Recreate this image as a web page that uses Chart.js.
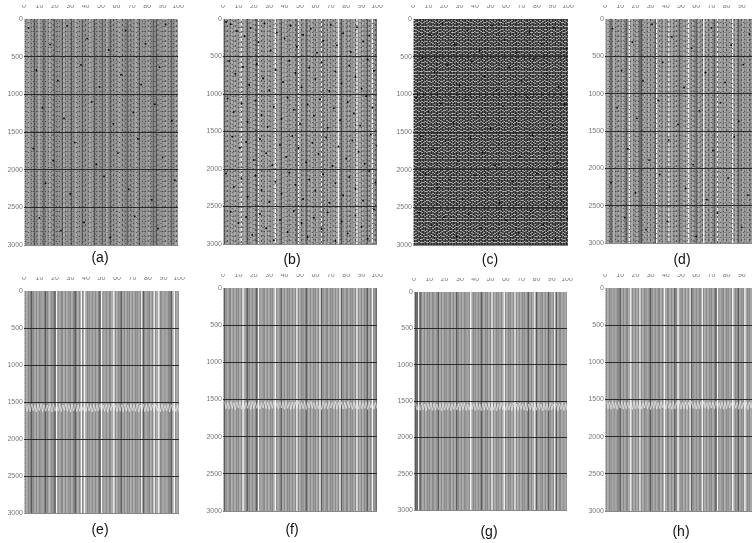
<!DOCTYPE html>
<html>
<head>
<meta charset="utf-8">
<script src="https://cdn.jsdelivr.net/npm/chart.js@4"></script>
<style>
html, body { margin: 0; padding: 0; background: #fff; overflow: hidden; width: 752px; height: 543px; }
canvas { position: absolute; }
.cap { position: absolute; font: 14px "Liberation Sans", sans-serif; color: #111; transform: translateX(-50%); }
</style>
</head>
<body>
<script>
// Trace numbers and axis values
const traceNumbers = [1,2,3,4,5,6,7,8,9,10,11,12,13,14,15,16,17,18,19,20,21,22,23,24,25,26,27,28,29,30,31,32,33,34,35,36,37,38,39,40,41,42,43,44,45,46,47,48,49,50,51,52,53,54,55,56,57,58,59,60,61,62,63,64,65,66,67,68,69,70,71,72,73,74,75,76,77,78,79,80,81,82,83,84,85,86,87,88,89,90,91,92,93,94,95,96,97,98,99,100];
const panelLabels = ['(a)','(b)','(c)','(d)','(e)','(f)','(g)','(h)'];
const xRange = [0, 100];
const timeRange = [0, 3000];

// Tone of each trace column, read by eye (0 white gap .. 3 dark)
const toneA = [2,2,1,2,2,2,3,2,2,1, 2,2,3,2,2,2,1,2,2,3, 2,2,2,2,3,1,2,2,2,2, 3,2,2,1,2,2,2,3,2,2, 2,2,1,2,2,3,2,2,2,2, 3,2,2,1,2,3,2,2,2,2, 2,1,2,2,2,2,3,2,2,2, 2,2,1,2,3,2,2,2,2,2, 1,2,2,3,2,3,2,2,2,2, 2,1,2,2,2,3,2,2,1,2];
const toneB = [3,2,1,2,2,1,2,1,2,2, 1,0,2,1,2,3,2,1,2,1, 2,3,0,2,1,2,2,1,2,1, 2,2,1,0,2,1,2,3,1,2, 1,2,2,1,2,1,2,3,0,1, 2,2,1,3,2,1,2,1,2,2, 1,2,2,0,3,1,2,2,1,2, 2,1,2,1,0,2,3,2,1,2, 2,1,2,2,1,2,0,2,1,2, 1,2,2,3,1,2,0,2,2,3];
const toneD = [2,1,2,3,2,1,2,2,1,2, 2,1,2,3,2,0,2,1,2,2, 1,2,3,3,2,1,2,2,1,2, 2,1,3,0,2,1,2,2,1,2, 2,0,2,1,2,2,1,2,3,2, 2,1,2,1,0,2,2,1,2,3, 2,1,2,2,0,2,1,2,2,1, 2,3,2,0,2,1,2,2,1,2, 2,1,2,0,2,1,2,3,2,2, 1,2,2,1,2,2,1,2,2,1];
const toneE = [2,1,2,2,3,2,1,2,1,2, 2,1,2,3,2,1,1,2,2,3, 0,2,1,2,2,1,2,1,2,2, 1,2,3,2,1,2,0,2,0,1, 2,2,1,2,1,2,1,2,3,0, 2,1,2,1,2,2,1,0,2,1, 2,2,3,1,2,1,2,2,1,2, 1,2,2,1,2,0,3,2,1,2, 2,1,2,0,2,1,0,2,2,1, 2,1,2,2,3,1,0,2,1,2];
const toneF = [3,2,1,2,2,1,2,1,2,2, 1,2,0,1,2,3,2,1,2,1, 2,3,0,2,1,2,2,1,2,1, 2,2,1,0,2,1,2,3,1,2, 1,2,2,1,2,1,2,0,2,1, 2,2,1,3,2,1,2,1,2,2, 1,2,0,3,2,1,2,2,1,2, 2,1,2,1,2,0,3,2,1,2, 2,1,2,2,1,2,0,2,1,2, 1,2,2,3,1,2,0,2,2,3];
const toneG = [3,3,0,3,2,1,2,1,2,2, 1,2,2,1,2,3,1,2,1,2, 2,1,2,2,1,2,1,3,2,1, 2,1,2,2,1,2,0,1,2,2, 1,2,1,3,2,1,2,2,1,2, 0,2,1,2,2,1,2,1,0,2, 1,2,2,1,2,0,2,1,2,1, 2,2,1,2,3,1,2,1,0,3, 2,1,2,2,1,2,1,3,2,1, 2,0,3,1,2,2,1,2,1,2];
const toneH = [2,1,2,2,1,2,1,2,2,3, 1,2,1,2,2,1,0,2,1,2, 1,2,0,2,1,2,2,1,2,3, 2,1,2,1,2,2,1,2,0,1, 2,2,1,2,1,3,2,0,1,2, 2,1,2,1,2,0,3,2,1,2, 1,2,2,0,2,1,2,1,2,2, 1,2,3,0,2,1,2,2,1,2, 2,1,2,0,1,2,2,3,1,2, 2,0,1,2,2,1,2,1,2,2];

// How broken up each noisy trace looks (0 clean .. 3 very broken)
const noiseA = [1,2,1,0,2,1,3,1,2,0,2,1,3,1,0,2,1,2,3,0,1,2,1,0,3,1,2,1,0,2,3,1,0,1,2,1,0,2,1,3,0,2,1,0,1,3,2,0,1,2,0,1,3,1,0,2,1,3,0,2,1,1,0,3,1,2,0,1,3,1,2,0,1,2,3,0,1,2,1,0,3,2,1,0,1,2,3,0,2,1,1,3,0,2,1,0,2,1,3,0];
const noiseB = [2,1,3,0,2,2,1,3,0,2,1,3,2,0,1,3,2,1,0,2,3,1,2,0,3,2,1,0,2,3,1,0,2,1,3,0,2,3,1,0,2,1,3,2,0,1,3,0,2,1,3,2,0,1,2,3,0,1,2,3,1,0,2,3,1,2,0,3,1,2,0,3,2,1,0,2,3,1,0,2,1,3,2,0,1,3,2,0,1,2,3,0,2,1,3,0,1,2,3,0];
const noiseC = [1,3,0,2,3,1,0,2,1,3,2,0,3,1,2,0,1,3,2,1,0,3,2,0,1,3,1,2,0,3,1,2,3,0,1,2,0,3,1,2,3,1,0,2,1,3,0,2,3,1,2,0,1,3,2,0,3,1,2,1,0,3,2,1,3,0,2,1,0,3,1,2,0,3,2,1,3,0,1,2,3,1,0,2,1,3,2,0,1,3,0,2,3,1,2,0,3,1,2,0];
const noiseD = [0,2,1,3,1,0,2,1,3,0,1,2,1,3,0,2,1,0,3,1,2,1,0,2,3,1,0,2,1,3,0,1,2,1,0,3,2,1,0,2,1,3,1,0,2,1,3,0,1,2,0,3,1,2,1,0,2,3,1,0,2,1,1,3,0,2,1,3,0,1,2,1,0,3,2,1,0,2,1,3,0,1,2,1,3,0,2,1,0,3,1,2,0,1,3,2,1,0,2,1];

// Scalloped event near 1500-1650 on panels e-h, read by eye
const eventTimes = [1530,1625,1535,1630,1525,1620,1540,1635,1530,1615,1525,1630,1535,1625,1540,1620,1530,1635,1525,1625,1535,1620,1530,1630,1540,1615,1525,1625,1535,1635,1530,1620,1525,1630,1540,1625,1530,1615,1535,1630,1525,1620,1540,1635,1530,1625,1535,1620,1525,1630,1540,1625,1530,1635,1535,1615,1525,1620,1540,1630,1530,1625,1535,1635,1525,1620,1540,1630,1530,1615,1535,1625,1525,1635,1540,1620,1530,1630,1535,1625,1525,1615,1540,1635,1530,1620,1535,1630,1525,1625,1540,1620,1530,1635,1535,1615,1525,1630,1540,1625];

// Dark specks as [trace, time]
const specksA = [[3,120],[17,340],[28,90],[41,260],[55,410],[66,150],[79,330],[92,70],[8,680],[22,820],[37,610],[49,900],[63,740],[76,870],[88,640],[12,1180],[26,1320],[44,1100],[58,1390],[71,1240],[85,1130],[96,1350],[6,1720],[19,1880],[33,1640],[47,1930],[61,1780],[74,1590],[90,1840],[14,2180],[30,2320],[52,2090],[68,2260],[83,2400],[98,2140],[10,2640],[24,2810],[39,2700],[56,2900],[72,2620],[87,2780]];
const specksB = [[2,40],[5,70],[9,160],[14,230],[18,120],[23,310],[27,60],[31,420],[35,180],[40,260],[44,90],[48,370],[52,210],[57,130],[61,450],[65,290],[70,80],[74,350],[78,190],[83,440],[87,110],[91,300],[95,220],[4,560],[8,730],[13,640],[17,880],[22,600],[26,790],[30,950],[34,680],[39,840],[43,560],[47,720],[51,910],[56,650],[60,800],[64,580],[69,960],[73,700],[77,860],[82,620],[86,770],[90,930],[94,540],[98,690],[3,1060],[7,1240],[12,1130],[16,1370],[21,1090],[25,1280],[29,1440],[33,1170],[38,1330],[42,1050],[46,1210],[50,1400],[55,1140],[59,1290],[63,1070],[68,1450],[72,1190],[76,1350],[81,1110],[85,1260],[89,1420],[93,1030],[97,1180],[6,1570],[11,1720],[15,1640],[20,1880],[24,1600],[28,1790],[32,1950],[37,1680],[41,1840],[45,1560],[49,1720],[54,1910],[58,1650],[62,1800],[67,1580],[71,1960],[75,1700],[80,1860],[84,1620],[88,1770],[92,1930],[96,1540],[100,1690],[2,2060],[7,2240],[12,2130],[16,2370],[21,2090],[25,2280],[30,2440],[34,2170],[38,2330],[43,2050],[47,2210],[52,2400],[56,2140],[60,2290],[65,2070],[69,2450],[73,2190],[78,2350],[82,2110],[86,2260],[91,2420],[95,2030],[99,2180],[5,2570],[10,2720],[15,2640],[19,2880],[24,2600],[28,2790],[33,2950],[37,2680],[42,2840],[46,2560],[51,2720],[55,2910],[59,2650],[64,2800],[68,2580],[73,2960],[77,2700],[81,2860],[86,2620],[90,2770],[94,2930],[98,2540]];
const specksC = [[3,80],[11,210],[19,60],[27,340],[35,150],[43,420],[51,90],[59,280],[67,440],[75,170],[83,330],[91,110],[99,390],[6,520],[14,700],[22,610],[30,880],[38,560],[46,760],[54,940],[62,640],[70,820],[78,530],[86,720],[94,900],[2,1050],[10,1230],[18,1120],[26,1380],[34,1070],[42,1280],[50,1450],[58,1160],[66,1340],[74,1040],[82,1220],[90,1410],[98,1130],[5,1560],[13,1730],[21,1620],[29,1890],[37,1580],[45,1770],[53,1940],[61,1660],[69,1830],[77,1540],[85,1720],[93,1910],[8,2060],[16,2240],[24,2130],[32,2390],[40,2080],[48,2270],[56,2440],[64,2160],[72,2340],[80,2050],[88,2230],[96,2420],[4,2570],[12,2740],[20,2630],[28,2890],[36,2590],[44,2770],[52,2940],[60,2670],[68,2840],[76,2550],[84,2730],[92,2920],[100,2650]];
const specksD = [[5,130],[18,310],[31,70],[44,240],[57,390],[70,120],[83,350],[95,200],[11,690],[25,830],[38,580],[52,920],[66,720],[79,850],[91,610],[8,1190],[21,1330],[35,1090],[48,1410],[62,1230],[76,1120],[88,1370],[15,1740],[29,1890],[42,1620],[58,1950],[71,1760],[85,1580],[4,2190],[20,2330],[36,2080],[53,2270],[67,2420],[81,2130],[94,2360],[13,2660],[27,2820],[41,2710],[60,2910],[74,2600],[90,2790]];

// Where each panel's plot sits on the page
const panels = [
  { left: 24,  top: 19,  right: 178, bottom: 245, tone: toneA, noise: noiseA, specks: specksA, capX: 100, capY: 249 },
  { left: 223, top: 19,  right: 377, bottom: 244, tone: toneB, noise: noiseB, specks: specksB, capX: 292, capY: 251 },
  { left: 413, top: 19,  right: 568, bottom: 245, noise: noiseC, specks: specksC, dense: true, capX: 490, capY: 251 },
  { left: 605, top: 19,  right: 757, bottom: 243, tone: toneD, noise: noiseD, specks: specksD, capX: 682, capY: 251 },
  { left: 24,  top: 291, right: 179, bottom: 513, tone: toneE, event: true, capX: 100, capY: 521 },
  { left: 223, top: 288, right: 377, bottom: 511, tone: toneF, event: true, capX: 292, capY: 521 },
  { left: 414, top: 292, right: 567, bottom: 510, tone: toneG, event: true, capX: 489, capY: 523 },
  { left: 605, top: 288, right: 757, bottom: 511, tone: toneH, event: true, capX: 681, capY: 523 }
];

const AXIS_LEFT = 24;
const AXIS_TOP = 14;
const PAD = 8;
const TICK_FONT = { family: '"Liberation Sans Narrow", "Liberation Sans", sans-serif', size: 7 };
const toneColors = ['#f5f5f5', '#a8a8a8', '#8a8a8a', '#5c5c5c'];
const overlayDash = [null, [1, 4], [1, 3], [2, 3]];
const denseDash = [[3, 1], [2, 1], [4, 1], [2, 1, 3, 1]];

function traceLine(trace, style) {
    return Object.assign({
        data: [{ x: trace, y: timeRange[0] }, { x: trace, y: timeRange[1] }],
        showLine: true,
        pointRadius: 0
    }, style);
}

function buildDatasets(panel) {
    const datasets = [];
    traceNumbers.forEach((trace, i) => {
        if (panel.dense) {
            datasets.push(traceLine(trace, { borderColor: '#a8a8a8', borderWidth: 1.7 }));
            datasets.push(traceLine(trace, {
                borderColor: '#2c2c2c',
                borderWidth: 1.6,
                borderDash: denseDash[panel.noise[i]],
                borderDashOffset: panel.noise[i]
            }));
            return;
        }
        datasets.push(traceLine(trace, {
            borderColor: toneColors[panel.tone[i]],
            borderWidth: 1.7,
            // white gaps go underneath so their neighbours narrow them
            order: panel.tone[i] === 0 ? 1 : 0
        }));
        if (panel.noise && overlayDash[panel.noise[i]]) {
            datasets.push(traceLine(trace, {
                borderColor: '#333333',
                borderWidth: 0.8,
                borderDash: overlayDash[panel.noise[i]],
                borderDashOffset: panel.noise[i] + panel.tone[i]
            }));
        }
    });
    // dotted left edge of the section
    datasets.push(traceLine(xRange[0], { borderColor: '#8a8a8a', borderWidth: 1, borderDash: [1, 1] }));
    if (panel.event) {
        datasets.push({
            data: traceNumbers.map((trace, i) => ({ x: trace, y: eventTimes[i] })),
            showLine: true,
            borderColor: 'rgba(255,255,255,0.55)',
            borderWidth: 1,
            pointRadius: 0
        });
    }
    if (panel.specks) {
        datasets.push({
            data: panel.specks.map(s => ({ x: s[0], y: s[1] })),
            showLine: false,
            backgroundColor: '#000',
            pointRadius: 0.9,
            pointBorderWidth: 0
        });
    }
    // Chart.js paints the first dataset last, so flip to keep this build order
    return datasets.reverse();
}

panels.forEach((panel, idx) => {
    const canvas = document.createElement('canvas');
    const plotW = panel.right - panel.left;
    const plotH = panel.bottom - panel.top;
    canvas.width = plotW + AXIS_LEFT + PAD;
    canvas.height = plotH + AXIS_TOP + PAD;
    canvas.style.left = (panel.left - AXIS_LEFT) + 'px';
    canvas.style.top = (panel.top - AXIS_TOP) + 'px';
    document.body.appendChild(canvas);

    new Chart(canvas, {
        type: 'scatter',
        data: { datasets: buildDatasets(panel) },
        options: {
            responsive: false,
            animation: false,
            layout: { padding: { right: PAD, bottom: PAD } },
            plugins: { legend: { display: false }, tooltip: { enabled: false } },
            scales: {
                x: {
                    position: 'top',
                    min: xRange[0],
                    max: xRange[1],
                    border: { display: false },
                    grid: { display: false },
                    ticks: { stepSize: 10, maxRotation: 0, padding: 1, color: '#777', font: TICK_FONT, callback: v => String(v) },
                    afterFit(scale) { scale.height = AXIS_TOP; scale.paddingLeft = 0; scale.paddingRight = 0; }
                },
                y: {
                    reverse: true,
                    min: timeRange[0],
                    max: timeRange[1],
                    border: { display: false },
                    grid: {
                        z: 1,
                        drawTicks: false,
                        lineWidth: 1,
                        color: ctx => (ctx.tick.value === timeRange[0] ? 'rgba(0,0,0,0)' : ctx.tick.value === timeRange[1] ? '#888' : '#2a2a2a')
                    },
                    ticks: { stepSize: 500, padding: 1, color: '#777', font: TICK_FONT, callback: v => String(v) },
                    afterFit(scale) { scale.width = AXIS_LEFT; scale.paddingTop = 0; scale.paddingBottom = 0; }
                }
            }
        }
    });

    const cap = document.createElement('div');
    cap.className = 'cap';
    cap.textContent = panelLabels[idx];
    cap.style.left = panel.capX + 'px';
    cap.style.top = panel.capY + 'px';
    document.body.appendChild(cap);
});
</script>
</body>
</html>
